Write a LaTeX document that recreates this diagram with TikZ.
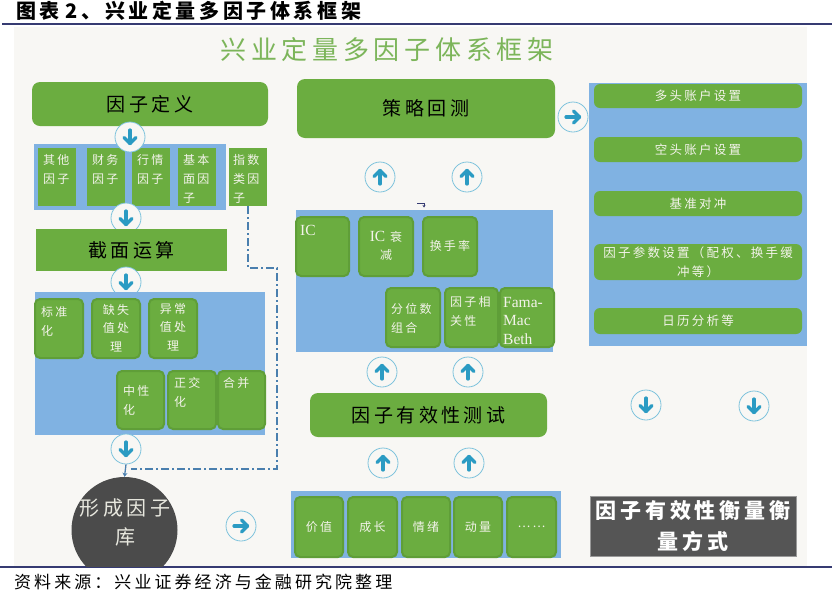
\documentclass[tikz,border=0pt]{standalone}
\usepackage{fontspec}
\setmainfont{Noto Sans CJK SC}[LetterSpace=18]
\newfontfamily\latf{Liberation Serif}
\usetikzlibrary{arrows.meta}
\definecolor{gr}{HTML}{6BAD40}
\definecolor{grd}{HTML}{5F9E38}
\definecolor{bl}{HTML}{80B2E2}
\definecolor{bgc}{HTML}{F8F7F4}
\definecolor{ttl}{HTML}{7CB55A}
\definecolor{cir}{HTML}{7EC3DC}
\definecolor{arrc}{HTML}{2B9BC3}
\definecolor{navy}{HTML}{363B72}
\definecolor{dashc}{HTML}{4A7FAE}
\definecolor{dkc}{HTML}{4B4B4B}
\definecolor{dkb}{HTML}{555555}
\definecolor{wt}{HTML}{F3F3EA}
\tikzset{
  gsq/.style={fill=gr, draw=none, inner sep=0pt, outer sep=0pt},
  gbox/.style={fill=gr, draw=grd, line width=2pt, rounded corners=5pt, inner sep=0pt, outer sep=0pt},
  bigbox/.style={fill=gr, draw=none, rounded corners=8pt, inner sep=0pt, outer sep=0pt},
  bigsq/.style={fill=gr, draw=none, inner sep=0pt, outer sep=0pt},
  bluebox/.style={fill=bl, draw=none, inner sep=0pt, outer sep=0pt},
  barbox/.style={fill=gr, draw=none, rounded corners=6pt, inner sep=0pt, outer sep=0pt},
  darkbox/.style={fill=dkb, draw=gray!80, line width=1pt, inner sep=0pt, outer sep=0pt},
  stxt/.style={text=wt, font=\fontsize{12}{19}\selectfont, inner sep=0pt, align=left},
  ctxt/.style={text=wt, font=\fontsize{12}{18.5}\selectfont, inner sep=0pt, align=center},
  bartxt/.style={text=wt, font=\fontsize{12.5}{19}\selectfont, inner sep=0pt, align=center},
  btxt/.style={text=black, font=\fontsize{19}{23}\selectfont, inner sep=0pt},
  lattxt/.style={text=wt, font=\latf\fontsize{15.5}{18.5}\selectfont, inner sep=0pt, align=left},
  arrcirc/.style={circle, minimum size=30pt, inner sep=0pt, fill=bgc, draw=cir, line width=0.8pt},
  arrglyph/.style={draw=arrc, line width=3.2pt, line cap=round, line join=round},
  conn/.style={draw=dashc, line width=1.3pt, dash pattern=on 8pt off 3pt on 2pt off 3pt},
}
\newcommand\MkBox[6]{%
  \node[#1, anchor=north west, minimum width={(#5-#3)*1pt}, minimum height={(#6-#4)*1pt}] (#2) at (#3,#4) {};}
\newcommand\ArrC[4]{%
  \node[arrcirc] (#1) at (#2,#3) {};
  \begin{scope}[shift={(#1.center)}, rotate=#4]
    \draw[arrglyph] (0,-7) -- (0,6.5);
    \draw[arrglyph] (-6,0.5) -- (0,6.5) -- (6,0.5);
  \end{scope}}
\begin{document}
\begin{tikzpicture}[x=1pt, y=-1pt]
\useasboundingbox (0,0) rectangle (839,598);
\fill[white] (0,0) rectangle (839,598);
% panel
\fill[bgc] (14,27) rectangle (807,566);
\draw[navy, line width=2.2pt] (2,24) -- (832,24);
\draw[navy, line width=2pt] (0,567) -- (832,567);
\node[anchor=west, inner sep=0pt, font=\bfseries\fontsize{20}{24}\selectfont] (title) at (16,11) {图表\hspace{6pt}2、兴业定量多因子体系框架};
\node[anchor=west, inner sep=0pt, font=\fontsize{17}{20}\selectfont] (src) at (14,582) {资料来源：兴业证券经济与金融研究院整理};
\node[inner sep=0pt, text=ttl, font=\fontsize{26}{30}\selectfont] (maintitle) at (387,50) {兴业定量多因子体系框架};

% ===== left column
\MkBox{bigbox}{dy}{32}{82}{268}{126}
\node[btxt] (dyt) at (dy.center) {因子定义};
\MkBox{bluebox}{bl1}{34}{144}{226}{210}
\MkBox{gsq}{s1}{38}{148}{76}{206}
\MkBox{gsq}{s2}{87}{148}{125}{206}
\MkBox{gsq}{s3}{132}{148}{170}{206}
\MkBox{gsq}{s4}{178}{148}{216}{206}
\MkBox{gsq}{zs}{229}{148}{267}{206}
\node[stxt, anchor=north west] (s1t) at (43,154) {其他\\因子};
\node[stxt, anchor=north west] (s2t) at (92,154) {财务\\因子};
\node[stxt, anchor=north west] (s3t) at (137,154) {行情\\因子};
\node[stxt, anchor=north west] (s4t) at (183,154) {基本\\面因\\子};
\node[stxt, anchor=north west] (zst) at (233,154) {指数\\类因\\子};
\ArrC{c1}{130}{137}{0}
\ArrC{c2}{126}{218}{0}
\MkBox{bigsq}{jm}{36}{229}{227}{271}
\node[btxt] (jmt) at (jm.center) {截面运算};
\ArrC{c3}{126}{282}{0}
\MkBox{bluebox}{bl2}{35}{292}{265}{435}
\MkBox{gbox}{bz}{35}{299}{83}{358}
\MkBox{gbox}{bq}{92}{299}{140}{358}
\MkBox{gbox}{by}{149}{299}{197}{358}
\MkBox{gbox}{bzx}{117}{371}{164}{429}
\MkBox{gbox}{bzj}{168}{371}{216}{429}
\MkBox{gbox}{bhb}{218}{371}{265}{429}
\node[stxt, anchor=north west] (bzt) at (41,306) {标准\\化};
\node[ctxt, anchor=north] (bqt) at (116,304) {缺失\\值处\\理};
\node[ctxt, anchor=north] (byt) at (173,303) {异常\\值处\\理};
\node[stxt, anchor=north west] (bzxt) at (123,385) {中性\\化};
\node[stxt, anchor=north west] (bzjt) at (174,377) {正交\\化};
\node[stxt, anchor=north west] (bhbt) at (223,377) {合并};
\ArrC{c4}{126}{449}{0}
\begin{scope}
  \clip (14,27) rectangle (807,566);
  \node[circle, fill=dkc, minimum size=106pt, inner sep=0pt] (ku) at (124.5,530) {};
\end{scope}
\node[inner sep=0pt, text=wt!90!gray, align=center, font=\fontsize{20}{29}\selectfont] (kut) at (125,522) {形成因子\\库};
\ArrC{ra1}{241}{526}{90}
% dash-dot connector
\draw[conn] (zs.south) -- (248,268) -- (277,268) -- (277,469) -- (131,469);
\draw[draw=dashc, line width=1.3pt, -{Stealth[length=4pt,width=5pt]}] (c4.south) -- (ku.north);

% ===== middle column
\MkBox{bigbox}{cl}{297}{79}{555}{138}
\node[btxt] (clt) at (cl.center) {策略回测};
\ArrC{c5}{380}{177}{180}
\ArrC{c6}{467}{177}{180}
\coordinate (tk1) at (417,203.5);
\coordinate (tk2) at (424,203.5);
\draw[navy, line width=0.7pt, -{Stealth[length=2.5pt,width=3pt]}] (tk1) -- (tk2) -- ++(0,4);
\MkBox{bluebox}{bl3}{296}{210}{553}{352}
\MkBox{gbox}{ic}{296}{217}{349}{276}
\MkBox{gbox}{icd}{359}{217}{413}{276}
\MkBox{gbox}{hs}{423}{217}{477}{276}
\MkBox{gbox}{fw}{386}{288}{440}{347}
\MkBox{gbox}{xg}{445}{288}{498}{347}
\MkBox{gbox}{fm}{500}{288}{554}{347}
\node[lattxt, anchor=west] (ict) at (300,230) {IC};
\node[ctxt, anchor=center] (icdt) at (386,246) {{\latf\fontsize{15.5}{18.5}\selectfont IC} 衰\\减};
\node[ctxt, anchor=center] (hst) at (450,246) {换手率};
\node[stxt, anchor=north west] (fwt) at (391,303) {分位数\\组合};
\node[stxt, anchor=north west] (xgt) at (450,296) {因子相\\关性};
\node[lattxt, anchor=north west] (fmt) at (503,297) {Fama-\\Mac\\Beth};
\ArrC{c7}{382}{372}{180}
\ArrC{c8}{468}{372}{180}
\MkBox{bigbox}{yx}{310}{393}{547}{437}
\node[btxt] (yxt) at (yx.center) {因子有效性测试};
\ArrC{c9}{383}{463}{180}
\ArrC{c10}{469}{463}{180}
\MkBox{bluebox}{bl4}{291}{491}{561}{558}
\MkBox{gbox}{f1}{295}{497}{343}{557}
\MkBox{gbox}{f2}{348}{497}{397}{557}
\MkBox{gbox}{f3}{402}{497}{450}{557}
\MkBox{gbox}{f4}{454}{497}{502}{557}
\MkBox{gbox}{f5}{507}{497}{556}{557}
\node[ctxt] (f1t) at (f1.center) {价值};
\node[ctxt] (f2t) at (f2.center) {成长};
\node[ctxt] (f3t) at (f3.center) {情绪};
\node[ctxt] (f4t) at (f4.center) {动量};
\node[ctxt] (f5t) at (f5.center) {……};

% ===== right column
\ArrC{ra2}{573}{117}{90}
\MkBox{bluebox}{bl5}{589}{83}{807}{346}
\MkBox{barbox}{r1}{594}{84}{802}{108}
\MkBox{barbox}{r2}{594}{137}{802}{162}
\MkBox{barbox}{r3}{594}{191}{802}{216}
\MkBox{barbox}{r4}{594}{244}{802}{280}
\MkBox{barbox}{r5}{594}{308}{802}{334}
\node[bartxt] (r1t) at (r1.center) {多头账户设置};
\node[bartxt] (r2t) at (r2.center) {空头账户设置};
\node[bartxt] (r3t) at (r3.center) {基准对冲};
\node[bartxt] (r4t) at (r4.center) {因子参数设置（配权、换手缓\\冲等）};
\node[bartxt] (r5t) at (r5.center) {日历分析等};
\ArrC{c11}{646}{405}{0}
\ArrC{c12}{754}{406}{0}
\MkBox{darkbox}{hl}{590}{496}{796}{556}
\node[inner sep=0pt, text=white, align=center, font=\bfseries\fontsize{21}{31}\selectfont] (hlt) at (hl.center) {因子有效性衡量衡\\量方式};
\end{tikzpicture}
\end{document}
